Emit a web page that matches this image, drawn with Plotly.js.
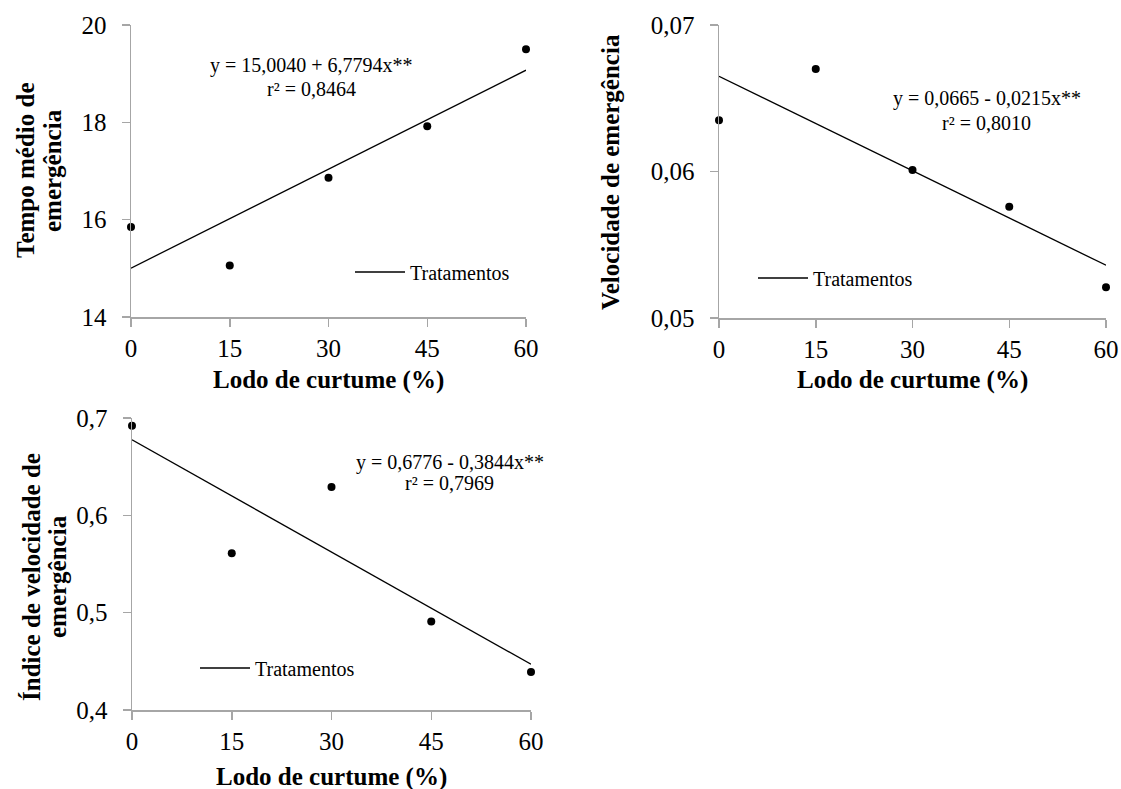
<!DOCTYPE html>
<html><head><meta charset="utf-8">
<script src="https://cdn.plot.ly/plotly-3.0.1.min.js"></script>
<style>html,body{margin:0;padding:0;background:#fff}#chart{width:1121px;height:789px}</style>
</head><body><div id="chart"></div>
<script>
const W = 1121, H = 789;
// data
const doses = [0, 15, 30, 45, 60];
const fitX = [0, 60];
const tme = [15.85, 15.06, 16.86, 17.92, 19.50];
const tmeFit = [15.004, 19.072];
const ve = [0.0635, 0.0670, 0.0601, 0.0576, 0.0521];
const veFit = [0.0665, 0.0536];
const ive = [0.692, 0.561, 0.629, 0.491, 0.439];
const iveFit = [0.6776, 0.4470];
const tmeTicks = [14, 16, 18, 20];
const veTicks = [0.05, 0.06, 0.07];
const iveTicks = [0.4, 0.5, 0.6, 0.7];
const xTicks = [0, 15, 30, 45, 60];
const xTitle = 'Lodo de curtume (%)';
const legendName = 'Tratamentos';
const eq1 = ['y = 15,0040 + 6,7794x**', 'r² = 0,8464'];
const eq2 = ['y = 0,0665 - 0,0215x**', 'r² = 0,8010'];
const eq3 = ['y = 0,6776 - 0,3844x**', 'r² = 0,7969'];

const FONT = 'Liberation Serif, Times New Roman, serif';
const fx = p => p / W;
const fy = p => 1 - p / H;

function xa(d0, d1, anchor) {
  return {domain: [fx(d0), fx(d1)], range: [0, 60], anchor: anchor,
    tickvals: xTicks, ticks: 'outside', ticklen: 8, tickwidth: 1.5, tickcolor: '#a6a6a6',
    showline: true, linecolor: '#a6a6a6', linewidth: 1.5, showgrid: false, zeroline: false,
    tickfont: {family: FONT, size: 25, color: '#000'}, ticklabelstandoff: 0, fixedrange: true};
}
function ya(t0, t1, anchor, range, ticks, fmt) {
  return {domain: [fy(t1), fy(t0)], range: range, anchor: anchor,
    tickvals: ticks, tickformat: fmt, ticks: 'outside', ticklen: 8, tickwidth: 1.5, tickcolor: '#a6a6a6',
    showline: true, linecolor: '#a6a6a6', linewidth: 1.5, showgrid: false, zeroline: false,
    tickfont: {family: FONT, size: 25, color: '#000'}, ticklabelstandoff: 10, fixedrange: true};
}

const ptStyle = {mode: 'markers', marker: {color: '#000', size: 8}, showlegend: false, cliponaxis: false, hoverinfo: 'x+y'};
const lnStyle = {mode: 'lines', line: {color: '#000', width: 1.3}, name: legendName, showlegend: true, cliponaxis: false};

const data = [
  Object.assign({x: fitX, y: tmeFit, xaxis: 'x', yaxis: 'y', legend: 'legend'}, lnStyle),
  Object.assign({x: doses, y: tme, xaxis: 'x', yaxis: 'y'}, ptStyle),
  Object.assign({x: fitX, y: veFit, xaxis: 'x2', yaxis: 'y2', legend: 'legend2'}, lnStyle),
  Object.assign({x: doses, y: ve, xaxis: 'x2', yaxis: 'y2'}, ptStyle),
  Object.assign({x: fitX, y: iveFit, xaxis: 'x3', yaxis: 'y3', legend: 'legend3'}, lnStyle),
  Object.assign({x: doses, y: ive, xaxis: 'x3', yaxis: 'y3'}, ptStyle)
];

function txt(text, x, y, size, bold, angle) {
  return {text: bold ? '<b>' + text + '</b>' : text, xref: 'paper', yref: 'paper',
    x: fx(x), y: fy(y), xanchor: 'center', yanchor: 'middle', showarrow: false,
    textangle: angle || 0, font: {family: FONT, size: size, color: '#000'}};
}

const annotations = [
  txt(eq1[0], 311, 65, 20), txt(eq1[1], 311, 89, 20),
  txt(eq2[0], 987, 98, 20), txt(eq2[1], 987, 123, 20),
  txt(eq3[0], 450, 462, 20), txt(eq3[1], 449, 483, 20),
  txt(xTitle, 328.5, 380, 25, true), txt(xTitle, 912.5, 380, 25, true), txt(xTitle, 331.5, 777, 25, true),
  txt('Tempo médio de', 26, 171, 25, true, -90), txt('emergência', 53, 171, 25, true, -90),
  txt('Velocidade de emergência', 610, 172, 25, true, -90),
  txt('Índice de velocidade de', 31, 577, 25, true, -90), txt('emergência', 57, 577, 25, true, -90)
];

function leg(x, y) {
  return {x: fx(x), y: fy(y), xanchor: 'left', yanchor: 'middle', bgcolor: 'rgba(0,0,0,0)',
    borderwidth: 0, itemwidth: 50, font: {family: FONT, size: 20, color: '#000'}, tracegroupgap: 0};
}

const layout = {
  width: W, height: H, margin: {l: 0, r: 0, t: 0, b: 0},
  paper_bgcolor: '#fff', plot_bgcolor: '#fff', separators: ',.',
  xaxis: xa(131, 526, 'y'),
  yaxis: ya(25, 317, 'x', [14, 20], tmeTicks, 'd'),
  xaxis2: xa(719, 1106, 'y2'),
  yaxis2: ya(25, 318, 'x2', [0.05, 0.07], veTicks, '.2f'),
  xaxis3: xa(132, 531, 'y3'),
  yaxis3: ya(418, 710, 'x3', [0.4, 0.7], iveTicks, '.1f'),
  legend: leg(350, 272), legend2: leg(753, 278), legend3: leg(195, 668),
  annotations: annotations,
  showlegend: true
};

Plotly.newPlot('chart', data, layout, {displayModeBar: false, staticPlot: true});
</script></body></html>
